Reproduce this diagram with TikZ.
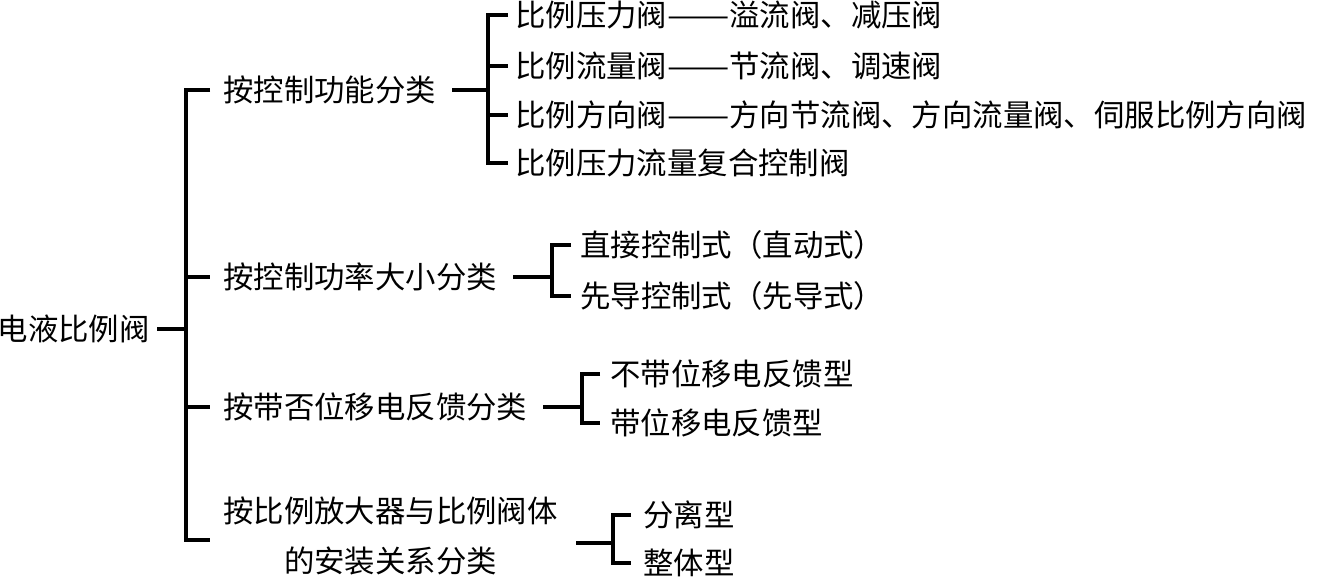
\documentclass[tikz,border=0pt]{standalone}
\usepackage{fontspec}
\setmainfont{Noto Sans CJK SC}
\newcommand{\longdash}{\resizebox{2.05em}{\height}{——}}
\tikzset{
  txt/.style={font=\fontsize{30.4pt}{50pt}\selectfont, inner sep=0pt, anchor=west},
  conn/.style={line width=3.2pt, line join=miter, black}
}
\begin{document}
\begin{tikzpicture}[x=1pt,y=-1pt]
\useasboundingbox (0,0) rectangle (1317,576);
% root
\node[txt, anchor=east] (root) at (150,329) {电液比例阀};
% level 1
\node[txt] (b1) at (223,90) {按控制功能分类};
\node[txt] (b2) at (223,277) {按控制功率大小分类};
\node[txt] (b3) at (223,407) {按带否位移电反馈分类};
\node[txt, align=center] (b4) at (223,536) {按比例放大器与比例阀体\\的安装关系分类};
% level 2
\node[txt] (c11) at (515,15) {比例压力阀\longdash 溢流阀、减压阀};
\node[txt] (c12) at (515,66) {比例流量阀\longdash 节流阀、调速阀};
\node[txt] (c13) at (515,115) {比例方向阀\longdash 方向节流阀、方向流量阀、伺服比例方向阀};
\node[txt] (c14) at (515,163) {比例压力流量复合控制阀};
\node[txt] (c21) at (580,245) {直接控制式（直动式）};
\node[txt] (c22) at (580,296) {先导控制式（先导式）};
\node[txt] (c31) at (610,374) {不带位移电反馈型};
\node[txt] (c32) at (610,423) {带位移电反馈型};
\node[txt] (c41) at (643,515) {分离型};
\node[txt] (c42) at (643,563) {整体型};
% junctions
\coordinate (k0) at (186,329);
\coordinate (k1) at (488,90);
\coordinate (k2) at (552,277);
\coordinate (k3) at (582,407);
\coordinate (k4) at (613,543);
% root bracket
\draw[conn] ([xshift=7pt]root.east) -- (k0);
\draw[conn] ([xshift=-13pt]b1.west) -| (k0 |- 0,540) -- (210,540);
\draw[conn] (k0 |- b2.west) -- ([xshift=-13pt]b2.west);
\draw[conn] (k0 |- b3.west) -- ([xshift=-13pt]b3.west);
% branch 1
\draw[conn] ([xshift=16pt]b1.east) -- (k1);
\draw[conn] ([xshift=-7pt]c11.west) -| (k1 |- c14.west) -- ([xshift=-7pt]c14.west);
\draw[conn] (k1 |- c12.west) -- ([xshift=-7pt]c12.west);
\draw[conn] (k1 |- c13.west) -- ([xshift=-7pt]c13.west);
% branch 2
\draw[conn] ([xshift=16pt]b2.east) -- (k2);
\draw[conn] ([xshift=-9pt]c21.west) -| (k2 |- c22.west) -- ([xshift=-9pt]c22.west);
% branch 3
\draw[conn] ([xshift=16pt]b3.east) -- (k3);
\draw[conn] ([xshift=-10pt]c31.west) -| (k3 |- c32.west) -- ([xshift=-10pt]c32.west);
% branch 4
\draw[conn] (576,543) -- (k4);
\draw[conn] ([xshift=-12pt]c41.west) -| (k4 |- c42.west) -- ([xshift=-12pt]c42.west);
\end{tikzpicture}
\end{document}
